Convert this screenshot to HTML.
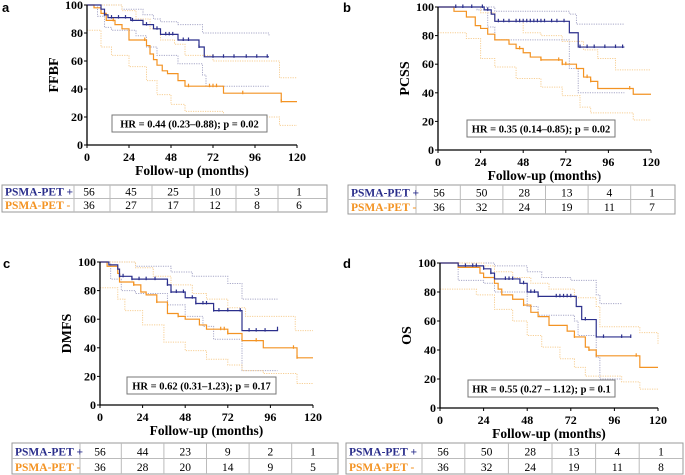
<!DOCTYPE html>
<html><head><meta charset="utf-8"><style>
body{margin:0;background:#fff}
svg{display:block;font-family:"Liberation Serif",serif}
.lt{font-family:"Liberation Sans",sans-serif;font-weight:bold;font-size:13px}
</style></head><body>
<svg id="c" width="685" height="475" viewBox="0 0 685 475" xmlns="http://www.w3.org/2000/svg"></svg>
<script>
// ---- data ----
const aBlue=[[0,100],[8,97],[10,93],[12,91],[25,89],[32,86],[38,83],[42,79],[52,75],[64,70],[67,63],[104,63]];
const aBlueCens=[10,14,18,22,26,34,40,45,47,49,55,58,64,72,78,84,91,97,103];
const aOrange=[[0,100],[4,98],[8,94],[11,89],[16,86],[20,83],[24,75],[34,71],[36,65],[38,61],[40,57],[43,53],[46,51],[52,46],[56,42],[78,37],[111,31],[120,31]];
const aOrangeCens=[15,33,58,70,72,74,89,111];
const aBlueUp=[[0,100],[8,100],[20,97],[32,93],[38,90],[42,88],[52,86],[66,80],[104,78]];
const aBlueLo=[[0,100],[6,92],[10,84],[14,82],[28,78],[34,70],[40,64],[52,58],[66,50],[68,42],[104,42]];
const aOrUp=[[0,100],[8,100],[20,96],[28,90],[36,83],[42,75],[50,72],[56,64],[72,60],[110,48],[120,48]];
const aOrLo=[[0,82],[4,82],[8,70],[14,64],[24,56],[34,46],[40,36],[48,29],[56,24],[78,20],[110,14],[120,14]];
const aRisk=[[56,45,25,10,3,1],[36,27,17,12,8,6]];

const bBlue=[[0,100],[26,98],[30,95],[32,90],[74,90],[74,82],[79,72],[105,72]];
const bBlueCens=[10,14,19,25,28,34,37,40,44,46,48,50,52,54,56,58,60,64,67,71,80,84,88,94,100,104];
const bOrange=[[0,100],[9,97],[16,93],[21,87],[24,85],[28,81],[32,77],[40,74],[44,71],[48,68],[52,65],[58,63],[70,60],[78,57],[82,51],[86,48],[90,43],[108,43],[110,39],[120,39]];
const bOrangeCens=[46,58,68,70,72,84,86,108];
const bBlueUp=[[0,100],[30,100],[32,97],[74,95],[78,88],[105,88]];
const bBlueLo=[[0,100],[22,98],[28,86],[32,77],[74,77],[74,57],[79,40],[105,40]];
const bOrUp=[[0,100],[16,100],[24,96],[32,90],[48,82],[58,80],[70,76],[82,70],[90,64],[100,56],[120,56]];
const bOrLo=[[0,82],[9,82],[16,78],[24,64],[32,58],[44,50],[58,44],[70,38],[80,30],[86,26],[110,21],[120,21]];
const bRisk=[[56,50,28,13,4,1],[36,32,24,19,11,7]];

const cBlue=[[0,100],[5,98],[10,95],[11,90],[18,88],[38,84],[40,79],[48,75],[54,71],[64,66],[80,65],[80,52],[100,53]];
const cBlueCens=[11,13,18,22,26,31,38,40,43,47,52,54,58,60,64,67,72,79,84,88,93,100];
const cOrange=[[0,100],[4,97],[10,92],[11,86],[19,84],[23,79],[26,77],[32,72],[38,64],[44,62],[48,60],[56,56],[60,53],[72,50],[80,45],[92,40],[111,33],[120,33]];
const cOrangeCens=[19,32,44,68,70,72,88,109,111];
const cBlueUp=[[0,100],[10,100],[20,97],[40,93],[52,90],[72,85],[80,74],[100,74]];
const cBlueLo=[[0,100],[6,88],[12,80],[20,78],[38,70],[48,62],[58,55],[64,46],[80,24],[100,24]];
const cOrUp=[[0,100],[6,100],[20,96],[30,90],[40,84],[52,78],[60,74],[72,68],[82,62],[110,52],[120,52]];
const cOrLo=[[0,82],[4,82],[10,74],[14,66],[24,56],[36,44],[48,38],[60,32],[72,28],[80,24],[92,22],[111,15],[120,15]];
const cRisk=[[56,44,23,9,2,1],[36,28,20,14,9,5]];

const dBlue=[[0,100],[10,98],[24,96],[28,93],[30,89],[44,86],[48,80],[54,77],[74,77],[75,70],[78,61],[86,49],[105,49]];
const dBlueCens=[14,18,20,24,28,36,38,40,46,50,52,54,64,66,68,70,72,80,90,100,105];
const dOrange=[[0,100],[10,97],[22,93],[24,90],[30,86],[32,82],[34,78],[40,75],[46,71],[50,66],[54,63],[60,57],[70,53],[74,49],[80,42],[82,40],[86,36],[108,36],[110,28],[120,28]];
const dOrangeCens=[46,74,82,86,108];
const dBlueUp=[[0,100],[24,100],[30,98],[48,94],[56,90],[72,88],[86,78],[88,72],[100,72]];
const dBlueLo=[[0,100],[10,88],[24,86],[30,80],[48,70],[54,64],[74,60],[76,50],[86,35],[88,20],[100,20]];
const dOrUp=[[0,100],[24,98],[30,94],[40,90],[50,86],[60,82],[74,76],[86,70],[88,56],[110,52],[120,44]];
const dOrLo=[[0,82],[10,82],[20,78],[30,68],[40,60],[48,50],[56,42],[66,34],[74,28],[80,22],[100,18],[110,13],[120,13]];
const dRisk=[[56,50,28,13,4,1],[36,32,24,19,11,8]];

const xTicks=[0,24,48,72,96,120];
const yTicks=[0,20,40,60,80,100];

const NS="http://www.w3.org/2000/svg";
const svg=document.getElementById('c');
function mk(tag,attrs,parent,text){const e=document.createElementNS(NS,tag);for(const k in attrs)e.setAttribute(k,attrs[k]);if(text!==undefined)e.textContent=text;(parent||svg).appendChild(e);return e;}
const NAVY="#2b2f8c",ORANGE="#f39323";

function panel(p){
  const g=mk('g',{});
  
  
  const X=v=>p.x0+(p.x1-p.x0)*v/120, Y=v=>p.y0+(p.y100-p.y0)*v/100;
  const step=(pts)=>{let d='M'+X(pts[0][0])+','+Y(pts[0][1]);for(let i=1;i<pts.length;i++){d+=' H'+X(pts[i][0])+' V'+Y(pts[i][1]);}return d;};
  const lt=mk('text',{x:p.lx,y:p.ly,class:'lt'},g,p.id);
  
  [[p.bu,'#a8a8c8','blue-ci-upper'],[p.bl,'#a8a8c8','blue-ci-lower'],[p.ou,'#f7cf95','orange-ci-upper'],[p.ol,'#f7cf95','orange-ci-lower']].forEach(c=>{
    const e=mk('path',{d:step(c[0]),fill:'none',stroke:c[1],'stroke-width':1,'stroke-dasharray':'1.2,1.2'},g);
    
  });
  [[p.o,p.oc,ORANGE,'orange-curve'],[p.b,p.bc,NAVY,'blue-curve']].forEach(c=>{
    const e=mk('path',{d:step(c[0]),fill:'none',stroke:c[2],'stroke-width':1.2},g);
    
    c[1].forEach(t=>{let s=c[0][0][1];for(const q of c[0]){if(q[0]<=t)s=q[1];}
      const m=mk('line',{x1:X(t),x2:X(t),y1:Y(s)-2.5,y2:Y(s)+1,stroke:c[2],'stroke-width':1.2},g);
      });
  });
  const ax=mk('path',{d:`M${p.x0},${Y(100)}V${p.y0}H${p.x1}`,fill:'none',stroke:'#000','stroke-width':1.3},g);
  
  yTicks.forEach(v=>{mk('line',{x1:p.x0-3,x2:p.x0,y1:Y(v),y2:Y(v),stroke:'#000'},g);
    const t=mk('text',{x:p.x0-4,y:Y(v)+4,'text-anchor':'end','font-size':12,'font-weight':'bold'},g,v);
    });
  xTicks.forEach(v=>{mk('line',{x1:X(v),x2:X(v),y1:p.y0,y2:p.y0+3,stroke:'#000'},g);
    const t=mk('text',{x:X(v),y:p.y0+16,'text-anchor':'middle','font-size':12,'font-weight':'bold'},g,v);
    });
  const yt=mk('text',{x:0,y:0,transform:`translate(${p.x0-29},${(p.y0+Y(100))/2}) rotate(-90)`,'text-anchor':'middle','font-size':14,'font-weight':'bold'},g,p.yl);
  
  const xt=mk('text',{x:(p.x0+p.x1)/2,y:p.y0+30,'text-anchor':'middle','font-size':13.5,'font-weight':'bold'},g,'Follow-up (months)');
  
  const hb=mk('rect',{x:p.hx,y:p.hy,width:p.hw,height:17,fill:'#fff',stroke:'#777'},g);
  
  const ht=mk('text',{x:p.hx+p.hw/2,y:p.hy+12.5,'text-anchor':'middle','font-size':10.5,'font-weight':'bold'},g,p.hr);
  
  const tb=mk('g',{},g);
  const h=(p.ty1-p.ty0)/2;
  mk('rect',{x:p.tx0,y:p.ty0,width:p.tx1-p.tx0,height:p.ty1-p.ty0,fill:'none',stroke:'#999'},tb);
  mk('line',{x1:p.tx0,x2:p.tx1,y1:p.ty0+h,y2:p.ty0+h,stroke:'#bbb'},tb);
  mk('line',{x1:p.tdiv,x2:p.tdiv,y1:p.ty0,y2:p.ty1,stroke:'#bbb'},tb);
  for(let j=0;j<5;j++){const xm=(X(xTicks[j])+X(xTicks[j+1]))/2+p.toff;mk('line',{x1:xm,x2:xm,y1:p.ty0,y2:p.ty1,stroke:'#bbb'},tb);}
  [['PSMA-PET +',NAVY],['PSMA-PET -',ORANGE]].forEach((r,i)=>{
    const t=mk('text',{x:p.tx0+3,y:p.ty0+h*i+h-3,'font-size':11.5,'font-weight':'bold',fill:r[1]},tb,r[0]);
    
    p.risk[i].forEach((v,j)=>{const n=mk('text',{x:X(xTicks[j])+p.toff,y:p.ty0+h*i+h-3,'font-size':11.5,'text-anchor':'middle'},tb,v);
      });
  });
}
panel({id:'a',lx:2,ly:12,x0:87,x1:297,y0:145,y100:5,b:aBlue,bc:aBlueCens,o:aOrange,oc:aOrangeCens,bu:aBlueUp,bl:aBlueLo,ou:aOrUp,ol:aOrLo,yl:'FFBF',hx:112,hy:115,hw:155,hr:'HR = 0.44 (0.23–0.88); p = 0.02',tx0:2,tx1:327,ty0:185,ty1:212,tdiv:74,toff:2,risk:aRisk});
panel({id:'b',lx:343,ly:12,x0:438,x1:651,y0:150,y100:7,b:bBlue,bc:bBlueCens,o:bOrange,oc:bOrangeCens,bu:bBlueUp,bl:bBlueLo,ou:bOrUp,ol:bOrLo,yl:'PCSS',hx:467,hy:120,hw:148,hr:'HR = 0.35 (0.14–0.85); p = 0.02',tx0:348,tx1:675,ty0:185,ty1:214,tdiv:416,toff:1,risk:bRisk});
panel({id:'c',lx:3,ly:268,x0:100,x1:313,y0:405,y100:262,b:cBlue,bc:cBlueCens,o:cOrange,oc:cOrangeCens,bu:cBlueUp,bl:cBlueLo,ou:cOrUp,ol:cOrLo,yl:'DMFS',hx:127,hy:377,hw:149,hr:'HR = 0.62 (0.31–1.23); p = 0.17',tx0:12,tx1:338,ty0:443,ty1:474,tdiv:80,toff:0,risk:cRisk});
panel({id:'d',lx:343,ly:268,x0:440,x1:658,y0:408,y100:263,b:dBlue,bc:dBlueCens,o:dOrange,oc:dOrangeCens,bu:dBlueUp,bl:dBlueLo,ou:dOrUp,ol:dOrLo,yl:'OS',hx:468,hy:380,hw:147,hr:'HR = 0.55 (0.27 – 1.12); p = 0.1',tx0:346,tx1:683,ty0:443,ty1:474,tdiv:422,toff:3,risk:dRisk});
</script>
</body></html>
